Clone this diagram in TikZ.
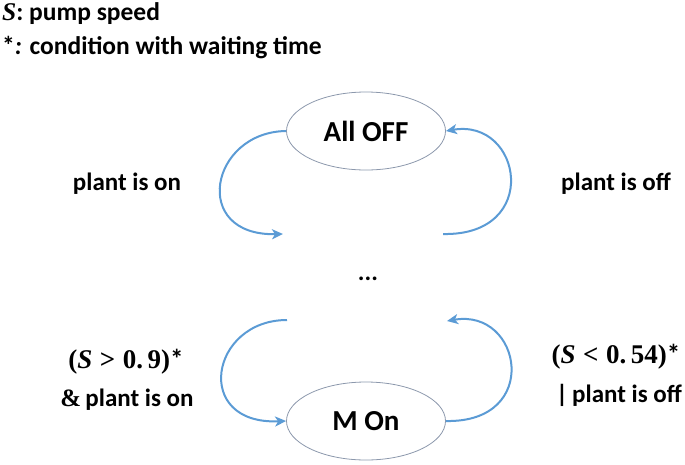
\documentclass[tikz,border=0pt]{standalone}
\usepackage{fontspec}
\setmainfont{Carlito}
\newfontfamily\mathserif{Liberation Serif}
\usetikzlibrary{shapes.geometric,arrows.meta}
\definecolor{arrowblue}{RGB}{91,155,213}
\definecolor{ellline}{RGB}{140,152,172}
\newcommand{\varS}{{\mathserif\bfseries\itshape S}}
\newcommand{\relsp}{\hspace{0.28em}}
\tikzset{
  stnode/.style={ellipse,draw=ellline,line width=0.8pt,minimum width=159pt,minimum height=78pt,inner sep=0pt,font=\fontsize{29}{33}\selectfont\bfseries},
  trans/.style={draw=arrowblue,line width=2pt,-{Stealth[length=11pt,width=10pt,inset=3pt]}},
  lbl/.style={font=\fontsize{25}{29}\selectfont\bfseries,inner sep=0pt},
  mlbl/.style={font=\fontsize{27}{31}\selectfont\bfseries,inner sep=0pt},
  legtext/.style={font=\fontsize{25.5}{29}\selectfont\bfseries,inner sep=0pt,anchor=west}
}
\begin{document}
\begin{tikzpicture}[x=1pt,y=-1pt]
\path[use as bounding box] (0,0) rectangle (685,464);
\node[stnode] (off) at (366,131) {All OFF};
\node[stnode] (on) at (366,421) {M On};
\node[font=\fontsize{25}{29}\selectfont\bfseries] (dots) at (368,279) {...};
\node[legtext] (l1) at (2,14) {\varS: pump speed};
\node[legtext] (l2) at (2,48) {*\textit{:} condition with waiting time};
\coordinate (c1) at (283,234);
\coordinate (c2) at (443,234);
\coordinate (c3) at (287,320);
\coordinate (c4) at (447,321);
\draw[trans] (off.west) .. controls (210,132) and (190,236) .. (c1);
\draw[trans] (c2) .. controls (542,236) and (522,118) .. (off.east);
\draw[trans] (c3) .. controls (210,320) and (192,425) .. (on.west);
\draw[trans] (on.east) .. controls (542,423) and (522,308) .. (c4);
\node[lbl] (t1) at (127,184) {plant is on};
\node[lbl] (t2) at (616,184) {plant is off};
\node[mlbl] (t3a) at (126,362) {{\mathserif(\textit{S}\relsp>\relsp0.\,9)}*};
\node[lbl] (t3b) at (127,400) {{\mathserif\&}\,plant is on};
\node[mlbl] (t4a) at (616,357) {{\mathserif(\textit{S}\relsp<\relsp0.\,54)}*};
\node[lbl] (t4b) at (619,395) {|\,plant is off};
\end{tikzpicture}
\end{document}
